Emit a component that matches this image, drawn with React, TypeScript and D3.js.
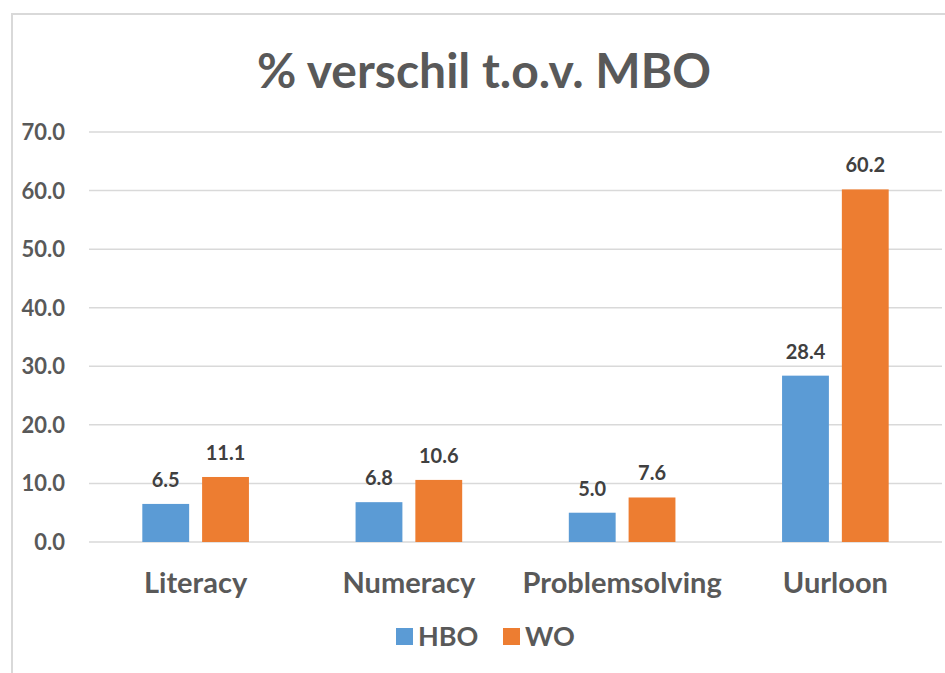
import React, { useEffect, useRef } from 'react'
import * as d3 from 'd3'

// Data
const categories = ['Literacy', 'Numeracy', 'Problemsolving', 'Uurloon']
const seriesNames = ['HBO', 'WO']
const hboValues = [6.5, 6.8, 5.0, 28.4]
const woValues = [11.1, 10.6, 7.6, 60.2]
const yTicks = [0, 10, 20, 30, 40, 50, 60, 70]
const colors = ['#5B9BD5', '#ED7D31']

const FONT = 'Lato, "Open Sans", sans-serif'

export default function App() {
  const ref = useRef<SVGSVGElement>(null)

  useEffect(() => {
    const svg = d3.select(ref.current)
    svg.selectAll('*').remove()

    const width = 945
    const height = 673

    // Chart area border
    svg.append('path')
      .attr('d', `M12,${height} L12,14 L${width},14`)
      .attr('fill', 'none')
      .attr('stroke', '#d9d9d9')
      .attr('stroke-width', 2)

    // Title
    svg.append('text')
      .text('% verschil t.o.v. MBO')
      .attr('x', 484)
      .attr('y', 88)
      .attr('text-anchor', 'middle')
      .attr('font-family', FONT)
      .attr('font-weight', 'bold')
      .attr('font-size', '48px')
      .attr('fill', '#595959')

    // Scales
    const x = d3.scaleBand<string>()
      .domain(categories)
      .range([89, 942])
      .paddingInner(0.5)
      .paddingOuter(0.25)

    const xInner = d3.scaleBand<string>()
      .domain(seriesNames)
      .range([0, x.bandwidth()])
      .paddingInner(0.2167)

    const y = d3.scaleLinear()
      .domain([0, 70])
      .range([542, 132])

    // Gridlines
    svg.append('g')
      .selectAll('line')
      .data(yTicks)
      .join('line')
      .attr('x1', 89)
      .attr('x2', 942)
      .attr('y1', d => y(d))
      .attr('y2', d => y(d))
      .attr('stroke', '#d9d9d9')
      .attr('stroke-width', 1.5)

    // Y tick labels
    svg.append('g')
      .selectAll('text')
      .data(yTicks)
      .join('text')
      .text(d => d.toFixed(1))
      .attr('x', 65)
      .attr('y', d => y(d) + 8)
      .attr('text-anchor', 'end')
      .attr('font-family', FONT)
      .attr('font-weight', 'bold')
      .attr('font-size', '22px')
      .attr('fill', '#595959')

    const series = [hboValues, woValues]

    series.forEach((values, si) => {
      const name = seriesNames[si]
      const g = svg.append('g')

      g.selectAll('rect')
        .data(values)
        .join('rect')
        .attr('x', (d, i) => (x(categories[i]) as number) + (xInner(name) as number))
        .attr('y', d => y(d))
        .attr('width', xInner.bandwidth())
        .attr('height', d => y(0) - y(d))
        .attr('fill', colors[si])

      // Data labels
      g.selectAll('text')
        .data(values)
        .join('text')
        .text(d => d.toFixed(1))
        .attr('x', (d, i) => (x(categories[i]) as number) + (xInner(name) as number) + xInner.bandwidth() / 2)
        .attr('y', d => y(d) - 17)
        .attr('text-anchor', 'middle')
        .attr('font-family', FONT)
        .attr('font-weight', 'bold')
        .attr('font-size', '20px')
        .attr('fill', '#404040')
    })

    // Category labels
    svg.append('g')
      .selectAll('text')
      .data(categories)
      .join('text')
      .text(d => d)
      .attr('x', d => (x(d) as number) + x.bandwidth() / 2)
      .attr('y', 593)
      .attr('text-anchor', 'middle')
      .attr('font-family', FONT)
      .attr('font-weight', 'bold')
      .attr('font-size', '29px')
      .attr('fill', '#595959')

    // Legend
    const legendX = [396, 503]
    const legend = svg.append('g')
    seriesNames.forEach((name, i) => {
      legend.append('rect')
        .attr('x', legendX[i])
        .attr('y', 628)
        .attr('width', 17)
        .attr('height', 17)
        .attr('fill', colors[i])
      legend.append('text')
        .text(name)
        .attr('x', legendX[i] + 22)
        .attr('y', 646)
        .attr('font-family', FONT)
        .attr('font-weight', 'bold')
        .attr('font-size', '27px')
        .attr('fill', '#595959')
    })
  }, [])

  return (
    <svg
      ref={ref}
      width={945}
      height={673}
      style={{ position: 'absolute', left: 0, top: 0, background: '#fff' }}
    />
  )
}
